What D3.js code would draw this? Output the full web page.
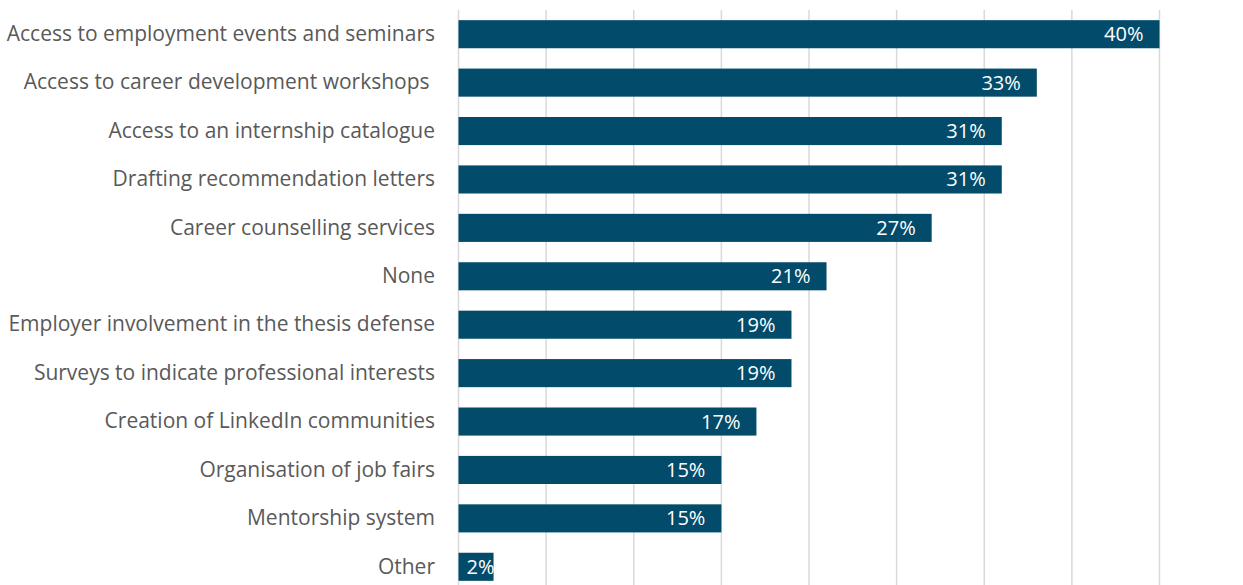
<!DOCTYPE html>
<html>
<head>
<meta charset="utf-8">
<script src="https://cdn.jsdelivr.net/npm/d3@7"></script>
<style>
  html, body { margin: 0; padding: 0; background: #fff; }
  svg { display: block; }
</style>
</head>
<body>
<svg id="chart" width="1243" height="585"></svg>
<script>
// Services offered, share of respondents (%)
const categories = [
  "Access to employment events and seminars",
  "Access to career development workshops ",
  "Access to an internship catalogue",
  "Drafting recommendation letters",
  "Career counselling services",
  "None",
  "Employer involvement in the thesis defense",
  "Surveys to indicate professional interests",
  "Creation of LinkedIn communities",
  "Organisation of job fairs",
  "Mentorship system",
  "Other"
];
const values = [40, 33, 31, 31, 27, 21, 19, 19, 17, 15, 15, 2];
const gridTicks = [0, 5, 10, 15, 20, 25, 30, 35, 40];

const svg = d3.select("#chart");
const fontFamily = "'Open Sans', 'Noto Sans', sans-serif";

const x = d3.scaleLinear().domain([0, 40]).range([458.5, 1159.5]);
const y = d3.scaleBand().domain(categories).range([10, 591])
  .paddingInner(0.42).paddingOuter(0.21);

// vertical gridlines
svg.append("g")
  .selectAll("line")
  .data(gridTicks)
  .join("line")
  .attr("x1", d => x(d)).attr("x2", d => x(d))
  .attr("y1", 10).attr("y2", 591)
  .attr("stroke", "#d9d9d9")
  .attr("stroke-width", 1.5);

// bars
svg.append("g")
  .selectAll("rect")
  .data(values)
  .join("rect")
  .attr("x", x(0))
  .attr("y", (d, i) => y(categories[i]))
  .attr("width", d => x(d) - x(0))
  .attr("height", y.bandwidth())
  .attr("fill", "#024b6b");

// category labels
const yAxis = d3.axisLeft(y).tickSize(0).tickPadding(0);
const ax = svg.append("g").attr("transform", `translate(${435},0)`).call(yAxis);
ax.select(".domain").remove();
ax.selectAll("text")
  .attr("fill", "#595959")
  .style("font-family", fontFamily)
  .style("font-size", "21px")
  .style("white-space", "pre");

// value labels, placed inside the bar end
const vl = svg.append("g")
  .selectAll("text")
  .data(values)
  .join("text")
  .attr("y", (d, i) => y(categories[i]) + y.bandwidth() / 2)
  .attr("dy", "0.35em")
  .attr("text-anchor", "end")
  .attr("fill", "#ffffff")
  .style("font-family", fontFamily)
  .style("font-size", "20px")
  .text(d => d + "%");
vl.attr("x", function(d) {
  const w = this.getComputedTextLength();
  return Math.max(x(d) - 16, x(0) + 8 + w);
});
</script>
</body>
</html>
